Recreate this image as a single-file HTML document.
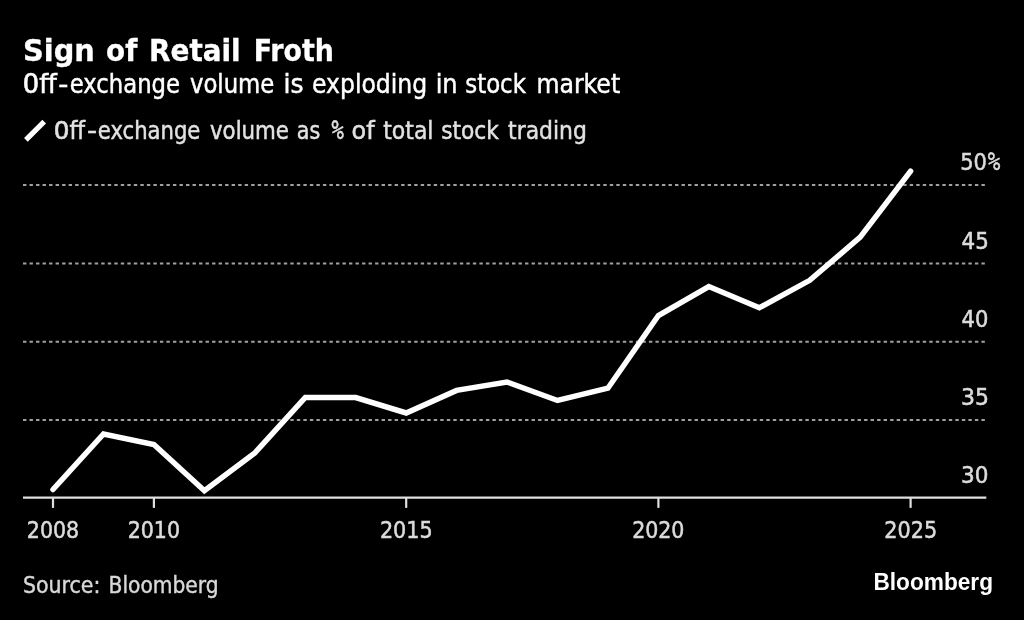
<!DOCTYPE html>
<html lang="en">
<head>
<meta charset="utf-8">
<title>Sign of Retail Froth</title>
<style>
html,body{margin:0;padding:0;background:#000;}
body{width:1024px;height:620px;overflow:hidden;}
svg{display:block;}
text{font-family:"DejaVu Sans Condensed","DejaVu Sans","Liberation Sans",sans-serif;white-space:pre;}
.title{font-weight:bold;font-size:29.7px;fill:#fff;stroke:#fff;stroke-width:0.3px;}
.sub{font-size:26.4px;fill:#fff;stroke:#fff;stroke-width:0.45px;}
.leg{font-size:24.6px;fill:#e2e2e2;stroke:#e2e2e2;stroke-width:0.45px;}
.ax text{font-size:23.1px;fill:#dcdcdc;stroke:#dcdcdc;stroke-width:0.5px;}
.axp{font-size:23.1px;fill:#dcdcdc;stroke:#dcdcdc;stroke-width:0.4px;}
.mono{font-family:"DejaVu Sans Mono","Liberation Mono",monospace;}
.src{font-size:23.1px;fill:#d8d8d8;stroke:#d8d8d8;stroke-width:0.4px;}
.logo{font-family:"Liberation Sans",sans-serif;font-weight:bold;font-size:23.9px;fill:#fff;}
.grid line{stroke:#a0a0a0;stroke-width:1.9;stroke-dasharray:3.4 3.12;}
.axis line{stroke:#e0e0e0;stroke-width:2.2;}
</style>
</head>
<body>
<svg width="1024" height="620" viewBox="0 0 1024 620">
<rect width="1024" height="620" fill="#000"/>
<text class="title" y="61.1" lengthAdjust="spacingAndGlyphs"><tspan lengthAdjust="spacingAndGlyphs" x="23.07" textLength="71.75">Sign</tspan> <tspan lengthAdjust="spacingAndGlyphs" x="106.11" textLength="31.21">of</tspan> <tspan lengthAdjust="spacingAndGlyphs" x="149.07" textLength="91.55">Retail</tspan> <tspan lengthAdjust="spacingAndGlyphs" x="253.87" textLength="79.93">Froth</tspan></text>
<text class="sub" y="92.8" lengthAdjust="spacingAndGlyphs"><tspan lengthAdjust="spacingAndGlyphs" class="mono" x="22.81" textLength="16.34">O</tspan><tspan lengthAdjust="spacingAndGlyphs" x="39.16" textLength="17.54">ff</tspan><tspan lengthAdjust="spacingAndGlyphs" x="58.32" textLength="10.16">-</tspan><tspan lengthAdjust="spacingAndGlyphs" x="69.76" textLength="110.21">exchange</tspan> <tspan lengthAdjust="spacingAndGlyphs" x="189.97" textLength="84.32">volume</tspan> <tspan lengthAdjust="spacingAndGlyphs" x="283.56" textLength="20.04">is</tspan> <tspan lengthAdjust="spacingAndGlyphs" x="312.02" textLength="115.23">exploding</tspan> <tspan lengthAdjust="spacingAndGlyphs" x="435.65" textLength="21.94">in</tspan> <tspan lengthAdjust="spacingAndGlyphs" x="465.25" textLength="60.68">stock</tspan> <tspan lengthAdjust="spacingAndGlyphs" x="536.42" textLength="83.75">market</tspan></text>
<line x1="25.9" y1="139.8" x2="44.2" y2="121.6" stroke="#fff" stroke-width="5.2"/>
<text class="leg" y="139" lengthAdjust="spacingAndGlyphs"><tspan lengthAdjust="spacingAndGlyphs" class="mono" x="53.67" textLength="15.61">O</tspan><tspan lengthAdjust="spacingAndGlyphs" x="69.62" textLength="15.54">ff</tspan><tspan lengthAdjust="spacingAndGlyphs" x="86.92" textLength="10.16">-</tspan><tspan lengthAdjust="spacingAndGlyphs" x="97.80" textLength="102.59">exchange</tspan> <tspan lengthAdjust="spacingAndGlyphs" x="210.01" textLength="79.00">volume</tspan> <tspan lengthAdjust="spacingAndGlyphs" x="296.86" textLength="23.45">as</tspan> <tspan lengthAdjust="spacingAndGlyphs" class="mono" style="font-size:26.00px" x="331.59" textLength="12.36">%</tspan> <tspan lengthAdjust="spacingAndGlyphs" x="351.49" textLength="23.10">of</tspan> <tspan lengthAdjust="spacingAndGlyphs" x="383.21" textLength="50.28">total</tspan> <tspan lengthAdjust="spacingAndGlyphs" x="441.22" textLength="57.71">stock</tspan> <tspan lengthAdjust="spacingAndGlyphs" x="508.12" textLength="78.74">trading</tspan></text>
<g class="grid">
<line x1="23" x2="986" y1="185.04" y2="185.04"/>
<line x1="23" x2="986" y1="263.57" y2="263.57"/>
<line x1="23" x2="986" y1="341.77" y2="341.77"/>
<line x1="23" x2="986" y1="419.96" y2="419.96"/>
</g>
<g class="axis">
<line x1="23" x2="986.3" y1="497.57" y2="497.57"/>
<line x1="53.0" x2="53.0" y1="497.57" y2="507.9"/>
<line x1="153.9" x2="153.9" y1="497.57" y2="507.9"/>
<line x1="406.2" x2="406.2" y1="497.57" y2="507.9"/>
<line x1="658.4" x2="658.4" y1="497.57" y2="507.9"/>
<line x1="910.6" x2="910.6" y1="497.57" y2="507.9"/>
</g>
<g class="ax" lengthAdjust="spacingAndGlyphs">
<text y="170.35"><tspan lengthAdjust="spacingAndGlyphs" x="960.22" textLength="26.72">50</tspan><tspan lengthAdjust="spacingAndGlyphs" class="mono" style="font-size:25.29px" x="987.79" textLength="12.57">%</tspan></text>
<text y="248.87"><tspan lengthAdjust="spacingAndGlyphs" x="961.58" textLength="27.27">45</tspan></text>
<text y="327.07"><tspan lengthAdjust="spacingAndGlyphs" x="961.60" textLength="26.74">40</tspan></text>
<text y="405.26"><tspan lengthAdjust="spacingAndGlyphs" x="960.94" textLength="27.95">35</tspan></text>
<text y="482.87"><tspan lengthAdjust="spacingAndGlyphs" x="960.97" textLength="27.40">30</tspan></text>
<text y="538.2"><tspan lengthAdjust="spacingAndGlyphs" x="26.81" textLength="52.34">2008</tspan></text>
<text y="538.2"><tspan lengthAdjust="spacingAndGlyphs" x="127.70" textLength="52.34">2010</tspan></text>
<text y="538.2"><tspan lengthAdjust="spacingAndGlyphs" x="379.91" textLength="52.82">2015</tspan></text>
<text y="538.2"><tspan lengthAdjust="spacingAndGlyphs" x="632.14" textLength="52.34">2020</tspan></text>
<text y="538.2"><tspan lengthAdjust="spacingAndGlyphs" x="884.35" textLength="52.82">2025</tspan></text>
</g>
<polyline points="53.0,489.5 103.5,434.0 153.9,444.5 204.4,490.8 254.8,453.0 305.3,397.5 355.7,397.5 406.2,413.0 456.6,390.4 507.0,382.0 557.5,400.5 607.9,388.2 658.4,315.5 708.8,286.5 759.3,307.8 809.7,280.3 860.2,237.2 910.6,171.2" fill="none" stroke="#fff" stroke-width="5.5" stroke-linejoin="miter" stroke-linecap="round"/>
<text class="src" y="593.3" lengthAdjust="spacingAndGlyphs"><tspan lengthAdjust="spacingAndGlyphs" x="22.93" textLength="77.44">Source:</tspan> <tspan lengthAdjust="spacingAndGlyphs" x="108.52" textLength="110.08">Bloomberg</tspan></text>
<text class="logo" y="590" lengthAdjust="spacingAndGlyphs"><tspan lengthAdjust="spacingAndGlyphs" x="873.43" textLength="119.61">Bloomberg</tspan></text>
</svg>
</body>
</html>
